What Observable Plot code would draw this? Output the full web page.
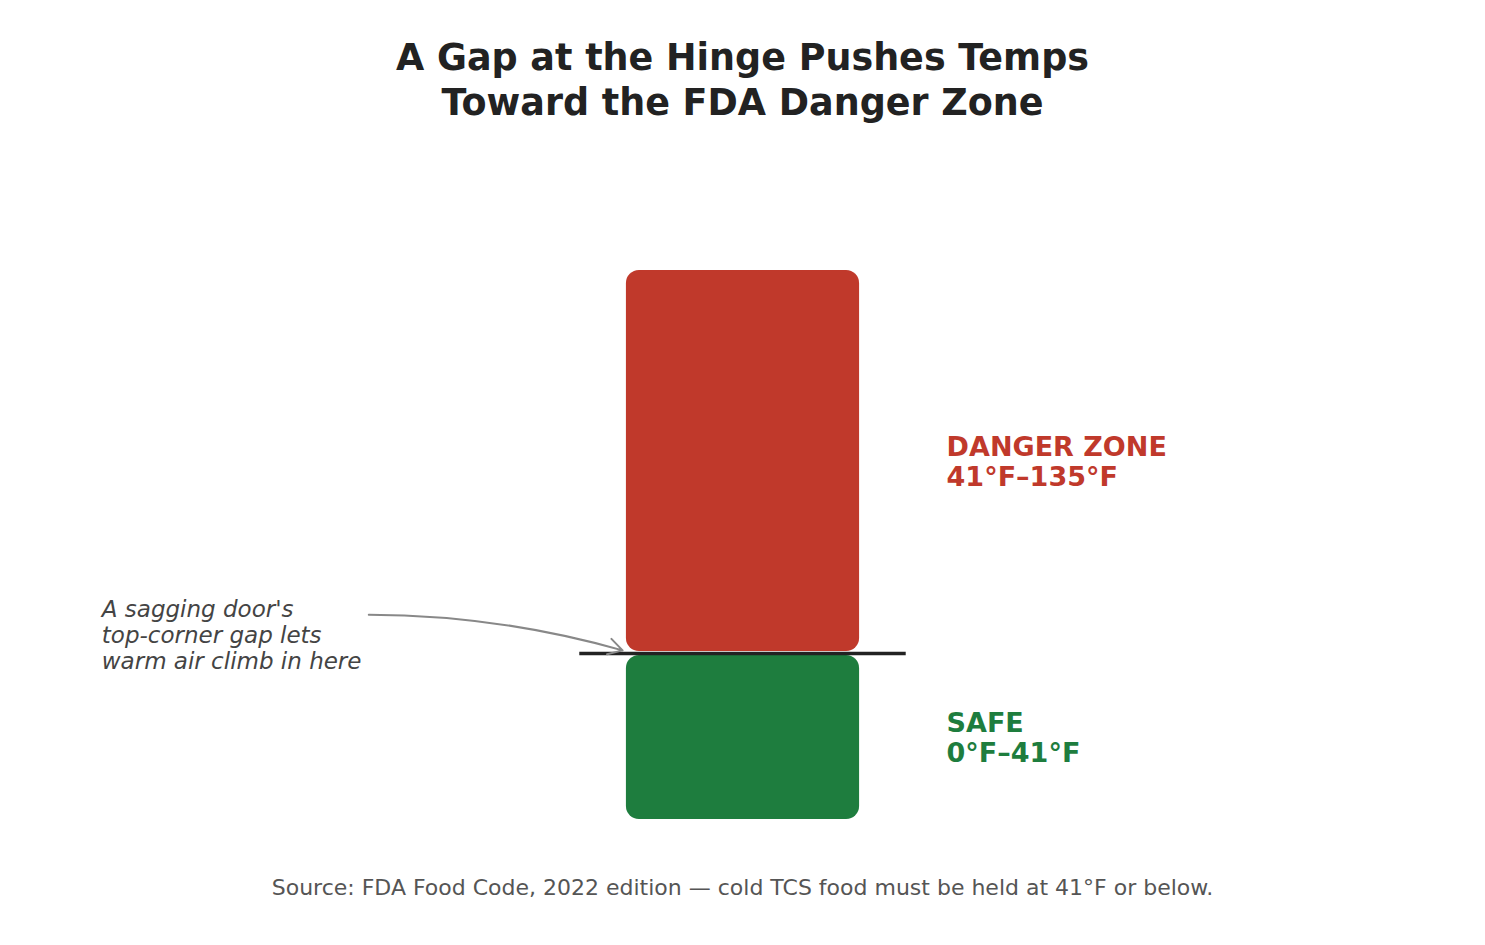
<!DOCTYPE html>
<html>
<head>
<meta charset="utf-8">
<script src="https://cdn.jsdelivr.net/npm/d3@7"></script>
<script src="https://cdn.jsdelivr.net/npm/@observablehq/plot@0.6"></script>
<style>
  html, body { margin: 0; padding: 0; background: #fff; }
  body { width: 1485px; font-family: "DejaVu Sans", sans-serif; }
  #title { box-sizing: border-box; height: 150px; padding-top: 35px; text-align: center;
           font-size: 36.5px; font-weight: bold; line-height: 45px; color: #222; }
  #chart svg { display: block; }
  #caption { margin-top: 16px; text-align: center; font-size: 22px; line-height: 24px; color: #555; }
</style>
</head>
<body>
<div id="title">A Gap at the Hinge Pushes Temps<br>Toward the FDA Danger Zone</div>
<div id="chart"></div>
<div id="caption">Source: FDA Food Code, 2022 edition — cold TCS food must be held at 41°F or below.</div>
<script>
const zones = ["SAFE", "DANGER ZONE"];
const lows = [0, 41];
const highs = [41, 135];
const rangeLabels = ["0°F–41°F", "41°F–135°F"];
const threshold = 41;
const note = "A sagging door's\ntop-corner gap lets\nwarm air climb in here";

const data = zones.map((z, i) => ({ zone: z, low: lows[i], high: highs[i], label: rangeLabels[i] }));

const chart = Plot.plot({
  width: 1485,
  height: 710,
  marginTop: 118,
  marginBottom: 39,
  marginLeft: 43,
  marginRight: 43,
  x: { domain: [-3, 3], axis: null },
  y: { domain: [0, 135], axis: null },
  color: { domain: zones, range: ["#1e7d3e", "#c0392b"] },
  marks: [
    Plot.rectY(data, {
      x1: -0.5, x2: 0.5, y1: "low", y2: "high", fill: "zone",
      rx: 13, insetTop: 2, insetBottom: 2
    }),
    Plot.ruleY([threshold], { x1: -0.7, x2: 0.7, stroke: "#222", strokeWidth: 3.5 }),
    Plot.text(data, {
      x: 0.5, y: d => (d.low + d.high) / 2,
      text: d => `${d.zone}\n${d.label}`,
      fill: "zone", textAnchor: "start", dx: 87,
      fontSize: 27, fontWeight: "bold", lineHeight: 1.11,
      fontFamily: "DejaVu Sans"
    }),
    Plot.text([note], {
      x: -2.75, y: 45.6, text: d => d,
      textAnchor: "start", fontStyle: "italic", fontSize: 23, lineHeight: 1.13,
      fill: "#444", fontFamily: "DejaVu Sans"
    }),
    Plot.arrow([note], {
      x1: -1.605, y1: 50.5, x2: -0.5, y2: 41.5,
      bend: 8, stroke: "#888", strokeWidth: 2, headLength: 12, insetEnd: 4
    })
  ]
});
document.getElementById("chart").append(chart);
</script>
</body>
</html>
